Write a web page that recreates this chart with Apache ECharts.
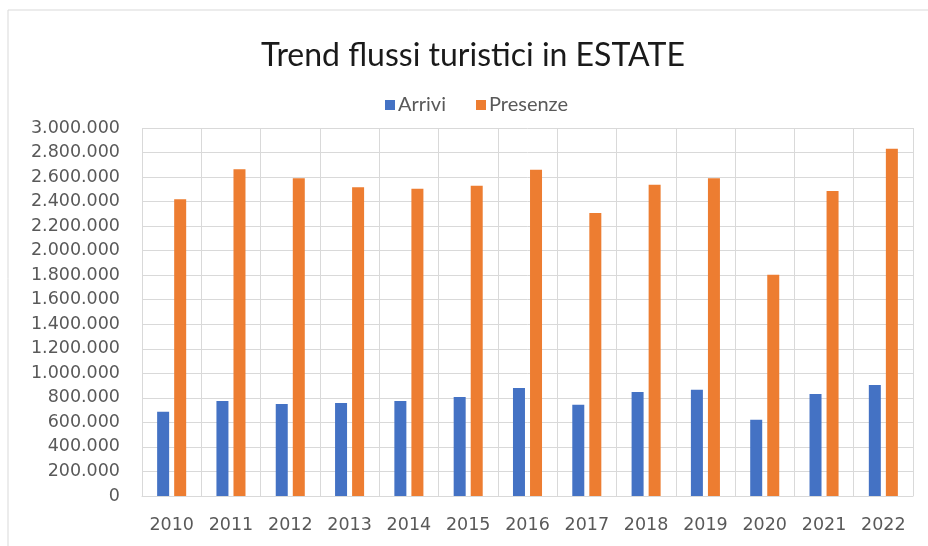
<!DOCTYPE html>
<html>
<head>
<meta charset="utf-8">
<script src="https://cdn.jsdelivr.net/npm/echarts@6/dist/echarts.min.js"></script>
<style>html,body{margin:0;padding:0;background:#fff}#c{width:928px;height:546px}</style>
</head>
<body>
<div id="c"></div>
<script>
const years = ['2010','2011','2012','2013','2014','2015','2016','2017','2018','2019','2020','2021','2022'];
const arrivi = [687000, 774000, 750000, 758000, 774000, 807000, 880000, 744000, 848000, 867000, 622000, 832000, 905000];
const presenze = [2419000, 2663000, 2590000, 2516000, 2505000, 2530000, 2660000, 2307000, 2538000, 2590000, 1804000, 2486000, 2831000];
const yMin = 0, yMax = 3000000, yStep = 200000;

function fmt(v){ return String(v).replace(/\B(?=(\d{3})+(?!\d))/g, '.'); }

const chart = echarts.init(document.getElementById('c'), null, {renderer:'canvas'});
chart.setOption({
  animation:false,
  backgroundColor:'#ffffff',
  graphic:[{type:'rect', shape:{x:8, y:10, width:940, height:560}, style:{fill:'none', stroke:'#d9d9d9', lineWidth:1}, silent:true}],
  title:{text:'Trend flussi turistici in ESTATE', left:256, top:35,
    textStyle:{fontFamily:'Lato', fontSize:32, fontWeight:'normal', color:'#1a1a1a'}},
  legend:{top:90, left:380, itemWidth:10, itemHeight:10, itemGap:30, icon:'rect',
    textStyle:{fontFamily:'Lato', fontSize:20, color:'#595959', padding:[0,0,0,-2]},
    data:['Arrivi','Presenze']},
  grid:{left:142, right:15, top:128, bottom:50, containLabel:false},
  xAxis:{type:'category', data:years,
    axisLine:{show:true, lineStyle:{color:'#d9d9d9'}}, axisTick:{show:false},
    splitLine:{show:true, lineStyle:{color:'#d9d9d9'}},
    axisLabel:{fontFamily:'DejaVu Sans', fontSize:17.5, color:'#595959', margin:20, interval:0}},
  yAxis:{type:'value', min:yMin, max:yMax, interval:yStep,
    axisLine:{show:false}, axisTick:{show:false},
    splitLine:{lineStyle:{color:'#d9d9d9'}},
    axisLabel:{fontFamily:'DejaVu Sans', fontSize:17.5, color:'#595959', margin:22, formatter:fmt}},
  series:[
    {name:'Arrivi', type:'bar', data:arrivi, barWidth:12, barGap:'42%', itemStyle:{color:'#4472C4'}},
    {name:'Presenze', type:'bar', data:presenze, barWidth:12, itemStyle:{color:'#ED7D31'}}
  ]
});
</script>
</body>
</html>
